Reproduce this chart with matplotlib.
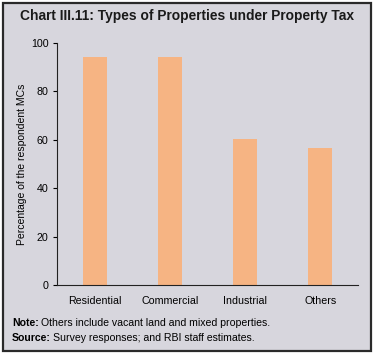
import matplotlib
matplotlib.use("Agg")
import matplotlib.pyplot as plt
from matplotlib.patches import Rectangle

categories = ["Residential", "Commercial", "Industrial", "Others"]
values = [94.2, 94.2, 60.3, 56.6]
yticks = [0, 20, 40, 60, 80, 100]

plt.rcParams['font.family'] = ['Liberation Sans', 'DejaVu Sans']

W, H = 375, 354
fig = plt.figure(figsize=(W/100, H/100), dpi=100)
fig.patch.set_facecolor("white")
bg = "#d7d6dd"
fig.patches.append(Rectangle((3/W, 3/H), (371-3)/W, (351-3)/H, transform=fig.transFigure,
                             facecolor=bg, edgecolor="#2a2a2a", linewidth=1.6, zorder=-5))

ax = fig.add_axes([57/W, 1-285/H, (358-57)/W, (285-43)/H])
ax.set_zorder(2)
ax.set_facecolor("none")
x = list(range(len(categories)))
ax.bar(x, values, width=0.32, color="#f6b483", zorder=2)
ax.set_xlim(-0.5, 3.5)
ax.set_ylim(0, 100)
ax.set_yticks(yticks)
ax.set_yticklabels([str(v) for v in yticks], fontsize=7.7)
ax.set_xticks(x)
ax.set_xticklabels(categories, fontsize=7.7)
ax.tick_params(axis='x', length=0, pad=8)
ax.tick_params(axis='y', length=3, width=0.8, pad=3, direction='out')
for s in ["top", "right"]:
    ax.spines[s].set_visible(False)
for s in ["left", "bottom"]:
    ax.spines[s].set_linewidth(0.8)
    ax.spines[s].set_color("#222222")
ax.set_ylabel("Percentage of the respondent MCs", fontsize=7.5, labelpad=3)

fig.text(187/W, 1-16/H, "Chart III.11: Types of Properties under Property Tax",
         ha="center", va="center", fontsize=9.9, fontweight="bold", color="#1a1a1a")

renderer = fig.canvas.get_renderer()
for yy, bold, rest in [(323, "Note:", "Others include vacant land and mixed properties."),
                       (338, "Source:", "Survey responses; and RBI staff estimates.")]:
    t = fig.text(12/W, 1-yy/H, bold, fontsize=7.6, fontweight="bold", va="center")
    bb = t.get_window_extent(renderer)
    fig.text(bb.x1/W + 2.5/W, 1-yy/H, rest, fontsize=7.6, va="center")

fig.savefig("out.png", dpi=100)
